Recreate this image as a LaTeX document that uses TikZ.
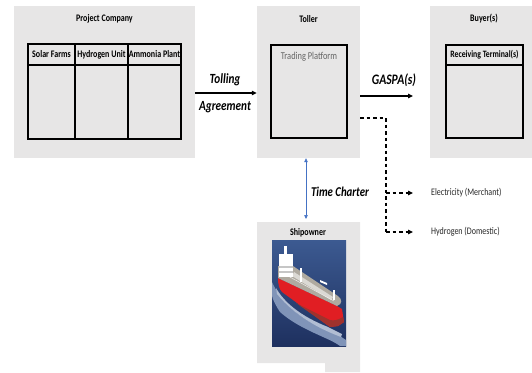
\documentclass[tikz,border=0pt]{standalone}
\usepackage{fontspec}
\setmainfont{Carlito}
\newfontfamily\cond[FakeStretch=0.8]{Carlito}
\usetikzlibrary{arrows.meta}
\definecolor{boxgray}{RGB}{231,230,230}
\definecolor{txtgray}{RGB}{100,100,100}
\definecolor{linkblue}{RGB}{68,114,196}
\definecolor{sea1}{RGB}{60,90,145}
\definecolor{sea2}{RGB}{30,48,95}
\definecolor{hullred}{RGB}{225,30,35}
\definecolor{hulldark}{RGB}{160,50,45}
\definecolor{deck}{RGB}{175,170,160}
\begin{document}
\begin{tikzpicture}[x=1pt,y=-1pt,
  panel/.style={fill=boxgray,draw=none,inner sep=0pt},
  cell/.style={draw=black,line width=1.4pt,inner sep=0pt,font=\cond\fontsize{10}{11}\selectfont\bfseries},
  ttl/.style={font=\cond\fontsize{10}{12}\selectfont\bfseries,inner sep=0pt},
  lbl/.style={font=\cond\fontsize{14}{16}\selectfont\bfseries\itshape,inner sep=0pt},
  small/.style={font=\cond\fontsize{10}{11}\selectfont,inner sep=0pt,anchor=west},
  solidarrow/.style={-{Triangle[length=5pt,width=4.5pt]},line width=1.2pt},
  dasharrow/.style={-{Triangle[length=5pt,width=4.5pt]},line width=1.2pt,dash pattern=on 3.5pt off 3pt},
  dashline/.style={line width=1.2pt,dash pattern=on 3.5pt off 3pt},
]
\useasboundingbox (0,0) rectangle (532,372);
% panels
\node[panel,minimum width=181pt,minimum height=152pt] (proj) at (104.5,82) {};
\node[panel,minimum width=103pt,minimum height=152pt] (toller) at (308.5,82) {};
\node[panel,minimum width=103pt,minimum height=152pt] (buyer) at (481.5,82) {};
\fill[boxgray] (257,222) -- (360,222) -- (360,372) -- (325,372) -- (325,363) -- (257,363) -- cycle;
% titles
\node[ttl] (tproj) at (104.5,19) {Project Company};
\node[ttl] (ttoller) at (308.5,19) {Toller};
\node[ttl] (tbuyer) at (484,19) {Buyer(s)};
\node[ttl] (tship) at (308,233) {Shipowner};
% table in project company
\node[cell,minimum width=47pt,minimum height=21pt] (c1) at (51.5,54.5) {Solar Farms};
\node[cell,minimum width=53pt,minimum height=21pt] (c2) at (101.5,54.5) {Hydrogen Unit};
\node[cell,minimum width=53pt,minimum height=21pt] (c3) at (154.5,54.5) {Ammonia Plant};
\node[cell,minimum width=47pt,minimum height=74pt] (b1) at (51.5,102) {};
\node[cell,minimum width=53pt,minimum height=74pt] (b2) at (101.5,102) {};
\node[cell,minimum width=53pt,minimum height=74pt] (b3) at (154.5,102) {};
% trading platform
\node[draw=black,line width=1.4pt,minimum width=76pt,minimum height=93pt,inner sep=0pt] (tp) at (309,91.5) {};
\node[font=\cond\fontsize{10.5}{12}\selectfont,text=txtgray,inner sep=0pt] (tptext) at (309,57) {Trading Platform};
% receiving terminal
\node[cell,minimum width=77pt,minimum height=20pt,font=\cond\fontsize{9.7}{11}\selectfont\bfseries] (rt) at (484.5,55) {Receiving Terminal(s)};
\node[cell,minimum width=77pt,minimum height=73pt] (rtb) at (484.5,101.5) {};
% tolling agreement
\draw[solidarrow] (proj.east |- 0,93) -- (toller.west |- 0,93);
\node[lbl] (tolling) at (225,80) {Tolling};
\node[lbl] (agree) at (225,107) {Agreement};
% GASPA
\coordinate (gaspaend) at (413,96);
\draw[solidarrow] (toller.east |- 0,96) -- (gaspaend);
\node[lbl,font=\cond\fontsize{14.5}{16}\selectfont\bfseries\itshape] (gaspa) at (394,80) {GASPA(s)};
% dashed
\coordinate (d0) at (360,118);
\coordinate (d1) at (386,118);
\coordinate (d2) at (386,232);
\coordinate (e0) at (386,193);
\coordinate (e1) at (413,193);
\coordinate (h1) at (413,232);
\draw[dashline] (d0) -- (d1) -- (d2);
\draw[dasharrow] (e0) -- (e1);
\draw[dasharrow] (d2) -- (h1);
\node[small,text=black!85] (elec) at (431,193) {Electricity (Merchant)};
\node[small,text=black!85] (hydro) at (431,232) {Hydrogen (Domestic)};
% time charter
\draw[{Triangle[length=4pt,width=3.5pt]}-{Triangle[length=4pt,width=3.5pt]},draw=linkblue,fill=linkblue,line width=0.6pt] (toller.south -| 306,0) -- (306,219);
\node[lbl,font=\cond\fontsize{13.5}{16}\selectfont\bfseries\itshape] (tc) at (340,192) {Time Charter};
% ship picture
\begin{scope}
\clip (272,240) rectangle (346,346);
\shade[top color=sea1,bottom color=sea2] (272,240) rectangle (346,346);
% wake (subtle)
\fill[white!35!sea1] (272,282) .. controls (280,300) and (300,322) .. (334,332) -- (346,340) -- (346,346) -- (340,346) .. controls (330,338) and (300,330) .. (280,312) .. controls (276,306) and (273,300) .. (272,296) -- cycle;
\fill[white!60!sea1] (276,288) .. controls (284,302) and (300,316) .. (328,327) -- (342,334) -- (341,337) .. controls (320,329) and (296,317) .. (277,294) -- cycle;
% hull side
\fill[hullred] (278,278) -- (337,306) -- (342,309) -- (344,322) -- (338,326) -- (330,327) -- (282,292) .. controls (279,289) and (278,284) .. (278,278) -- cycle;
\fill[hulldark] (296,303) -- (330,327) -- (338,326) -- (344,322) -- (343,317) .. controls (338,320) and (334,321) .. (330,320) -- cycle;
% deck
\fill[deck] (278,266) -- (293,266) -- (338,296) .. controls (342,299) and (343,304) .. (337,306) -- (278,278) -- cycle;
\fill[white!55!deck] (294,272) -- (333,297) -- (331,300) -- (292,276) -- cycle;
\draw[white!80!deck,line width=0.5pt] (288,276) -- (334,301);
% superstructure
\fill[white] (279,254) rectangle (293,277);
\fill[gray!45] (279,266) rectangle (293,268);
\fill[gray!45] (279,271) rectangle (293,272.5);
\fill[white] (284,246) rectangle (286.5,255);
\fill[white] (300,268) rectangle (301.5,282);
\fill[white] (320,280) -- (327,283) -- (327,285) -- (320,282) -- cycle;
\fill[white] (333,290) rectangle (334.5,300);
\end{scope}
\end{tikzpicture}
\end{document}
